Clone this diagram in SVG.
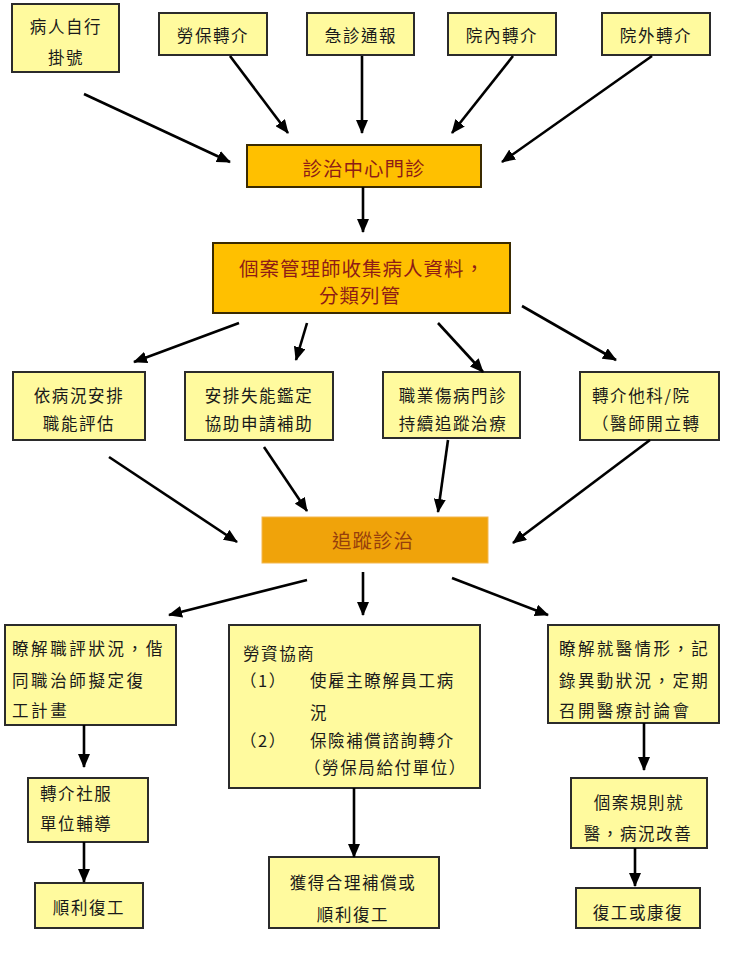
<svg xmlns="http://www.w3.org/2000/svg" width="731" height="953" viewBox="0 0 731 953">
<style>
.y{fill:#FFFA9E;stroke:#2b2b2b;stroke-width:2}
.o1{fill:#FFC000;stroke:#3a2a00;stroke-width:2}
.o2{fill:#F0A30A;stroke:#F4B850;stroke-width:1}
.t{font-family:"Noto Sans CJK TC","Noto Sans CJK SC",sans-serif;font-size:16.5px;fill:#1a1a1a;letter-spacing:1.6px;dominant-baseline:central}
.c{text-anchor:middle}
.r{font-family:"Noto Sans CJK TC","Noto Sans CJK SC",sans-serif;font-size:19.5px;fill:#8E1C16;letter-spacing:1px;dominant-baseline:central;text-anchor:middle}
.r2{fill:#96400C}
.a{stroke:#000;stroke-width:2.6;fill:none;marker-end:url(#ah)}
</style>
<defs>
<marker id="ah" markerUnits="userSpaceOnUse" markerWidth="14" markerHeight="12" refX="13" refY="6" orient="auto">
<path d="M0,0 L14,6 L0,12 z" fill="#000"/>
</marker>
</defs>
<rect width="731" height="953" fill="#fff"/>

<g id="n-self">
<rect class="y" x="12" y="4" width="107" height="68"/>
<text class="t c" x="66" y="26">病人自行</text>
<text class="t c" x="66" y="57">掛號</text>
</g>
<g id="n-labor">
<rect class="y" x="159" y="13" width="108" height="42"/>
<text class="t c" x="213" y="35">勞保轉介</text>
</g>
<g id="n-er">
<rect class="y" x="307" y="13" width="107" height="42"/>
<text class="t c" x="361" y="35">急診通報</text>
</g>
<g id="n-inner">
<rect class="y" x="448" y="13" width="108" height="42"/>
<text class="t c" x="502" y="35">院內轉介</text>
</g>
<g id="n-outer">
<rect class="y" x="602" y="13" width="108" height="42"/>
<text class="t c" x="656" y="35">院外轉介</text>
</g>

<g id="n-clinic">
<rect class="o1" x="247" y="145" width="234" height="42"/>
<text class="r" x="364" y="167">診治中心門診</text>
</g>

<g id="n-case">
<rect class="o1" x="213" y="243" width="297" height="70"/>
<text class="r" x="362" y="267">個案管理師收集病人資料，</text>
<text class="r" x="360" y="294">分類列管</text>
</g>

<g id="n-eval">
<rect class="y" x="13" y="372" width="132" height="68"/>
<text class="t c" x="79" y="395">依病況安排</text>
<text class="t c" x="79" y="423">職能評估</text>
</g>
<g id="n-disab">
<rect class="y" x="185" y="372" width="148" height="68"/>
<text class="t c" x="259" y="395">安排失能鑑定</text>
<text class="t c" x="259" y="423">協助申請補助</text>
</g>
<g id="n-occ">
<rect class="y" x="383" y="372" width="137" height="66"/>
<text class="t c" x="453" y="395">職業傷病門診</text>
<text class="t c" x="453" y="423">持續追蹤治療</text>
</g>
<g id="n-refer">
<rect class="y" x="580" y="372" width="139" height="68"/>
<text class="t" x="592" y="395">轉介他科/院</text>
<text class="t" x="592" y="423">（醫師開立轉</text>
</g>

<g id="n-track">
<rect class="o2" x="262" y="517" width="226" height="46"/>
<text class="r r2" x="373" y="539">追蹤診治</text>
</g>

<g id="n-plan">
<rect class="y" x="5" y="625" width="171" height="100"/>
<text class="t" x="12" y="648" style="letter-spacing:2.6px">瞭解職評狀況，偕</text>
<text class="t" x="12" y="680" style="letter-spacing:2.6px">同職治師擬定復</text>
<text class="t" x="12" y="710" style="letter-spacing:2.6px">工計畫</text>
</g>
<g id="n-nego">
<rect class="y" x="229" y="625" width="251" height="163"/>
<text class="t" x="243" y="653">勞資協商</text>
<text class="t" x="240" y="680">（1）</text>
<text class="t" x="310" y="680">使雇主瞭解員工病</text>
<text class="t" x="310" y="712">況</text>
<text class="t" x="240" y="740">（2）</text>
<text class="t" x="310" y="740">保險補償諮詢轉介</text>
<text class="t" x="304" y="767">（勞保局給付單位）</text>
</g>
<g id="n-record">
<rect class="y" x="548" y="625" width="171" height="98"/>
<text class="t" x="559" y="648" style="letter-spacing:2.4px">瞭解就醫情形，記</text>
<text class="t" x="559" y="680" style="letter-spacing:2.4px">錄異動狀況，定期</text>
<text class="t" x="559" y="710" style="letter-spacing:2.4px">召開醫療討論會</text>
</g>

<g id="n-social">
<rect class="y" x="28" y="778" width="120" height="64"/>
<text class="t" x="40" y="793">轉介社服</text>
<text class="t" x="40" y="823">單位輔導</text>
</g>
<g id="n-comp">
<rect class="y" x="269" y="857" width="170" height="71"/>
<text class="t c" x="353" y="882">獲得合理補償或</text>
<text class="t c" x="353" y="914">順利復工</text>
</g>
<g id="n-regular">
<rect class="y" x="571" y="778" width="136" height="70"/>
<text class="t c" x="639" y="802">個案規則就</text>
<text class="t c" x="638" y="833">醫，病況改善</text>
</g>

<g id="n-back1">
<rect class="y" x="35" y="883" width="108" height="45"/>
<text class="t c" x="89" y="907">順利復工</text>
</g>
<g id="n-back3">
<rect class="y" x="576" y="888" width="124" height="40"/>
<text class="t c" x="638" y="912">復工或康復</text>
</g>

<g id="connectors">
<line class="a" x1="84" y1="94" x2="230" y2="162"/>
<line class="a" x1="230" y1="56" x2="288" y2="133"/>
<line class="a" x1="362" y1="56" x2="362" y2="133"/>
<line class="a" x1="513" y1="56" x2="452" y2="133"/>
<line class="a" x1="652" y1="56" x2="502" y2="162"/>
<line class="a" x1="363" y1="187" x2="363" y2="232"/>
<line class="a" x1="239" y1="323" x2="134" y2="362"/>
<line class="a" x1="307" y1="323" x2="296" y2="360"/>
<line class="a" x1="438" y1="323" x2="483" y2="372"/>
<line class="a" x1="522" y1="306" x2="616" y2="360"/>
<line class="a" x1="109" y1="457" x2="237" y2="542"/>
<line class="a" x1="264" y1="447" x2="307" y2="511"/>
<line class="a" x1="448" y1="440" x2="438" y2="512"/>
<line class="a" x1="650" y1="440" x2="513" y2="543"/>
<line class="a" x1="307" y1="580" x2="169" y2="615"/>
<line class="a" x1="363" y1="572" x2="363" y2="615"/>
<line class="a" x1="452" y1="578" x2="548" y2="615"/>
<line class="a" x1="84" y1="725" x2="84" y2="767"/>
<line class="a" x1="644" y1="723" x2="644" y2="770"/>
<line class="a" x1="84" y1="842" x2="84" y2="882"/>
<line class="a" x1="354" y1="788" x2="354" y2="857"/>
<line class="a" x1="635" y1="848" x2="635" y2="886"/>
</g>
</svg>
